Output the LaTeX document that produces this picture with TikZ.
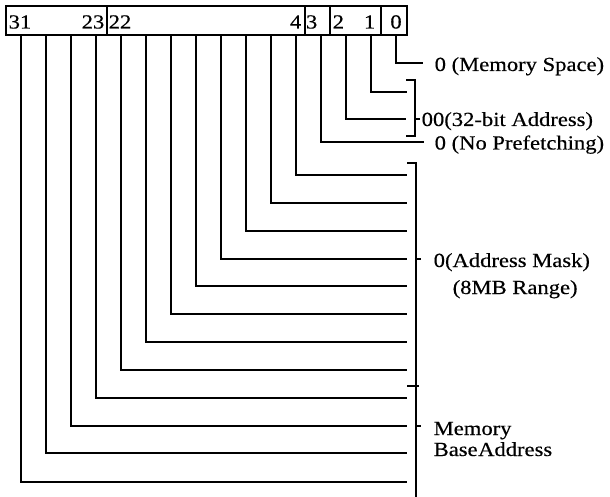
\documentclass[tikz,border=0pt]{standalone}
\usepackage{fontspec}
\setmainfont[FakeStretch=1.13,FakeBold=0.4]{Liberation Serif}
\begin{document}
\begin{tikzpicture}[x=1pt,y=-1pt,line width=1.4pt,
  every node/.style={inner sep=0pt,font=\fontsize{20}{22}\selectfont},
  lbl/.style={anchor=base west},
  boxline/.style={line width=1.1pt}]
\useasboundingbox (0,0) rectangle (610,497);
% register box
\draw[boxline] (6,6) rectangle (407,35);
\foreach \x in {107,305,330,381} \draw[boxline] (\x,6) -- (\x,35);
\node[anchor=base west] (n31) at (8,28.5) {31};
\node[anchor=base east] (n23) at (105,28.5) {23};
\node[anchor=base west] (n22) at (108,28.5) {22};
\node[anchor=base east] (n4) at (302,28.5) {4};
\node[anchor=base east] (n3) at (318,28.5) {3};
\node[anchor=base west] (n2) at (332,28.5) {2};
\node[anchor=base east] (n1) at (376,28.5) {1};
\node[anchor=base] (n0) at (396,28.5) {0};
% bit lines
\foreach \k/\yy/\xe in {0/482/407,1/453/407,2/426/407,3/398/407,4/370/407,5/342/407,
  6/314/407,7/286/407,8/259/407,9/231/407,10/203/407,11/175/407,
  12/142/424,13/119/406,14/92/407,15/63/423}{
  \coordinate (t\k) at ({21+25*\k},35);
  \coordinate (e\k) at (\xe,\yy);
  \draw (t\k) |- (e\k);
}
% 00 bracket
\coordinate (ba) at (415,80);
\coordinate (bb) at (415,136);
\draw (406,80) -- (ba) -- (bb) -- (406,136);
\draw (415,119) -- (420,119);
% large bracket
\coordinate (ma) at (416,163);
\coordinate (mb) at (416,497);
\draw (407,163) -- (ma) -- (mb);
\draw (407,386) -- (419,386);
\draw (416,259) -- (421,259);
\draw (416,426) -- (421,426);
% labels
\node[lbl] (l0) at (434,71) {0 (Memory Space)};
\node[lbl] (l1) at (421,126) {00(32-bit Address)};
\node[lbl] (l2) at (434,149.5) {0 (No Prefetching)};
\node[lbl] (l3) at (433,267) {0(Address Mask)};
\node[lbl] (l4) at (452,294) {(8MB Range)};
\node[lbl] (l5) at (433,435) {Memory};
\node[lbl] (l6) at (433,456) {{\spaceskip=0.5pt Base Address}};
\end{tikzpicture}
\end{document}
